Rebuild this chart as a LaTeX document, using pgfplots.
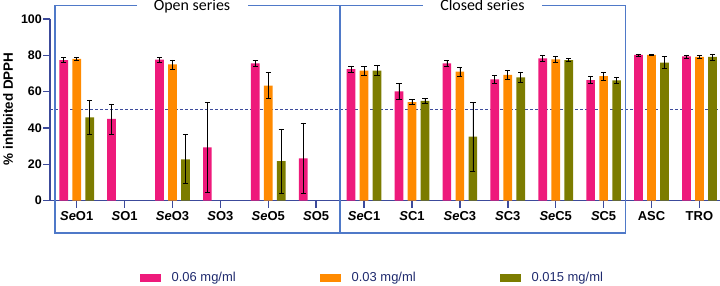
\documentclass[border=0pt]{standalone}
\usepackage{pgfplots}
\pgfplotsset{compat=1.18}
\usepackage{fontspec}
\setmainfont{Liberation Sans}
\newfontfamily\calib{Carlito}
\definecolor{cpink}{HTML}{EE1A7B}
\definecolor{corange}{HTML}{FF8A00}
\definecolor{colive}{HTML}{7C7C00}
\definecolor{caxis}{HTML}{3C4A9B}
\definecolor{cbox}{HTML}{4F79C8}
\definecolor{ctext}{HTML}{1F2A6E}
\begin{document}
\begin{tikzpicture}
\useasboundingbox (0,0) rectangle (720bp,286bp);
\begin{axis}[
  at={(50bp,85.3bp)}, anchor=south west,
  scale only axis, width=670bp, height=181.7bp,
  xmin=-0.557, xmax=13.43, ymin=0, ymax=100,
  ybar=4.3bp, bar width=8.7bp,
  axis x line*=bottom, axis y line*=left,
  axis line style={-, caxis, line width=1.5bp},
  tick style={caxis, line width=1.5bp},
  tick align=outside, major tick length=7bp,
  xtick={0,...,13},
  xticklabels={\textit{Se}O1,\textit{S}O1,\textit{Se}O3,\textit{S}O3,\textit{Se}O5,\textit{S}O5,\textit{Se}C1,\textit{S}C1,\textit{Se}C3,\textit{S}C3,\textit{Se}C5,\textit{S}C5,ASC,TRO},
  xticklabel style={font=\bfseries\fontsize{13}{15}\selectfont, text=black},
  ytick={0,20,40,60,80,100},
  /pgf/number format/assume math mode=true,
  yticklabel style={font=\bfseries\fontsize{12.5}{14}\selectfont, text=black, inner xsep=1bp},
  ylabel={\% inhibited DPPH},
  every axis y label/.style={at={(axis description cs:-0.0627,0.5047)}, rotate=90, anchor=center, font=\bfseries\fontsize{13.5}{15}\selectfont},
  clip=false,
  legend columns=3,
  legend image code/.code={\fill[#1] (0bp,-3.85bp) rectangle (20.7bp,3.85bp);},
  legend style={draw=none, fill=none, inner sep=0pt, outer sep=0pt,
    at={(axis description cs:0.1343,-0.4254)}, anchor=west,
    nodes={inner sep=0pt, outer sep=0pt, font=\fontsize{13}{15}\selectfont, text=ctext},
    /tikz/every even column/.append style={column sep=0pt},
    /tikz/every odd column/.append style={column sep=11bp},
    legend cell align=left},
  error bars/error bar style={black, line width=0.7bp},
  error bars/error mark options={rotate=90, black, mark size=2.6bp, line width=0.7bp},
]
\addplot[sharp plot, caxis, line width=1.2bp, dash pattern=on 2.5bp off 2.5bp, forget plot] coordinates {(-0.557,50) (13.43,50)};
\addplot[fill=cpink, draw=none, bar shift=-13bp,
  error bars/.cd, y dir=both, y explicit] coordinates {
  (0,77.4) +- (0,1.5)
  (1,45.0) +- (0,8.3)
  (2,77.6) +- (0,1.2)
  (3,29.4) +- (0,24.8)
  (4,75.6) +- (0,1.4)
  (5,23.3) +- (0,19.5)
  (6,72.4) +- (0,1.8)
  (7,60.2) +- (0,4.2)
  (8,75.6) +- (0,1.5)
  (9,66.8) +- (0,2.2)
  (10,78.3) +- (0,1.8)
  (11,66.4) +- (0,2.0)
  (12,80.2) +- (0,0.6)
  (13,79.4) +- (0,0.8)
};
\addlegendentry{\makebox[148.3bp][l]{0.06 mg/ml}}
\addplot[fill=corange, draw=none, bar shift=0bp,
  error bars/.cd, y dir=both, y explicit] coordinates {
  (0,78.0) +- (0,1.0)
  (2,75.0) +- (0,2.5)
  (4,63.3) +- (0,7.1)
  (6,71.6) +- (0,2.5)
  (7,54.3) +- (0,1.5)
  (8,71.0) +- (0,2.6)
  (9,69.2) +- (0,2.4)
  (10,77.8) +- (0,1.8)
  (11,68.6) +- (0,2.2)
  (12,80.2) +- (0,0.3)
  (13,79.1) +- (0,1.0)
};
\addlegendentry{\makebox[148.3bp][l]{0.03 mg/ml}}
\addplot[fill=colive, draw=none, bar shift=13bp,
  error bars/.cd, y dir=both, y explicit] coordinates {
  (0,45.9) +- (0,9.6)
  (2,22.8) +- (0,13.5)
  (4,21.8) +- (0,17.7)
  (6,71.6) +- (0,2.8)
  (7,55.0) +- (0,1.3)
  (8,35.2) +- (0,19.0)
  (9,67.9) +- (0,3.0)
  (10,77.4) +- (0,0.9)
  (11,66.2) +- (0,1.8)
  (12,76.0) +- (0,3.4)
  (13,79.1) +- (0,1.7)
};
\addlegendentry{0.015 mg/ml}
\end{axis}
\draw[cbox, line width=1.3bp] (137bp,280.3bp) -- (55bp,280.3bp) -- (55bp,53bp) -- (625.7bp,53bp) -- (625.7bp,280.3bp) -- (541.7bp,280.3bp);
\draw[cbox, line width=1.3bp] (248bp,280.3bp) -- (423bp,280.3bp);
\draw[cbox, line width=1.3bp] (340bp,280.3bp) -- (340bp,53bp);
\node[font=\calib\fontsize{16}{18}\selectfont, inner sep=0pt, anchor=base] at (192bp,275.3bp) {Open series};
\node[font=\calib\fontsize{16}{18}\selectfont, inner sep=0pt, anchor=base] at (482.4bp,275.3bp) {Closed series};
\end{tikzpicture}
\end{document}
